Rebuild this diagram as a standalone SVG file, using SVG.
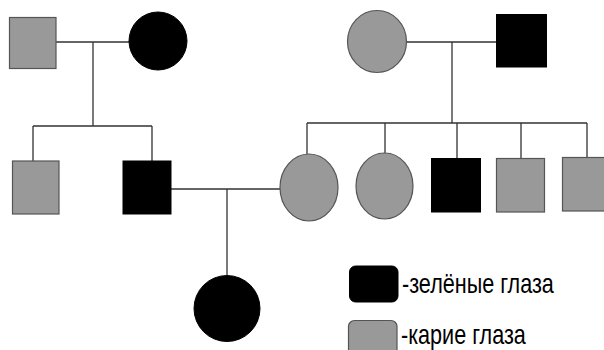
<svg xmlns="http://www.w3.org/2000/svg" width="604" height="350" viewBox="0 0 604 350">
<style>
.g{fill:#999999;stroke:#555555;stroke-width:1.2}
.b{fill:#000000;stroke:#000000;stroke-width:1}
.ln{stroke:#333333;stroke-width:1.3;fill:none}
.t{font-family:"Liberation Sans",Arial,sans-serif;font-size:21.6px;fill:#000000}
</style>
<rect x="0" y="0" width="604" height="350" fill="#ffffff"/>
<g id="connectors">
<path class="ln" d="M56 42H129M93 42V126M33 126H152M33 126V161M152 126V161"/>
<path class="ln" d="M407 42H496M452 42V123M307 123H587M307 123V154M385 123V153M457 123V158M521 123V158M587 123V157"/>
<path class="ln" d="M171 189H280M227 189V275"/>
</g>
<g id="gf1"><rect class="g" x="9.5" y="17.5" width="46.5" height="51"/></g>
<g id="gm1"><circle class="b" cx="158" cy="41" r="29"/></g>
<g id="gm2"><ellipse class="g" cx="377" cy="41.5" rx="29.5" ry="31"/></g>
<g id="gf2"><rect class="b" x="496.5" y="14.5" width="50" height="52.5"/></g>
<g id="c1"><rect class="g" x="12.5" y="161" width="46.5" height="53"/></g>
<g id="father"><rect class="b" x="123" y="161" width="48" height="53"/></g>
<g id="mother"><ellipse class="g" cx="309" cy="187.5" rx="29" ry="33.5"/></g>
<g id="c2"><ellipse class="g" cx="384.5" cy="186" rx="28.5" ry="33"/></g>
<g id="c3"><rect class="b" x="431.5" y="158.5" width="49" height="53.5"/></g>
<g id="c4"><rect class="g" x="496.5" y="158.5" width="48" height="53.5"/></g>
<g id="c5"><rect class="g" x="562.5" y="157.5" width="48" height="53.5"/></g>
<g id="child"><circle class="b" cx="227" cy="308.5" r="33"/></g>
<g id="legend">
<rect class="b" x="349.5" y="266" width="48.5" height="36" rx="6"/>
<text class="t" transform="translate(402,292.5) scale(1,1.25)">-зелёные глаза</text>
<rect class="g" x="348.5" y="320.5" width="48.5" height="36" rx="6"/>
<text class="t" transform="translate(401,343.5) scale(1,1.25)">-карие глаза</text>
</g>
</svg>
